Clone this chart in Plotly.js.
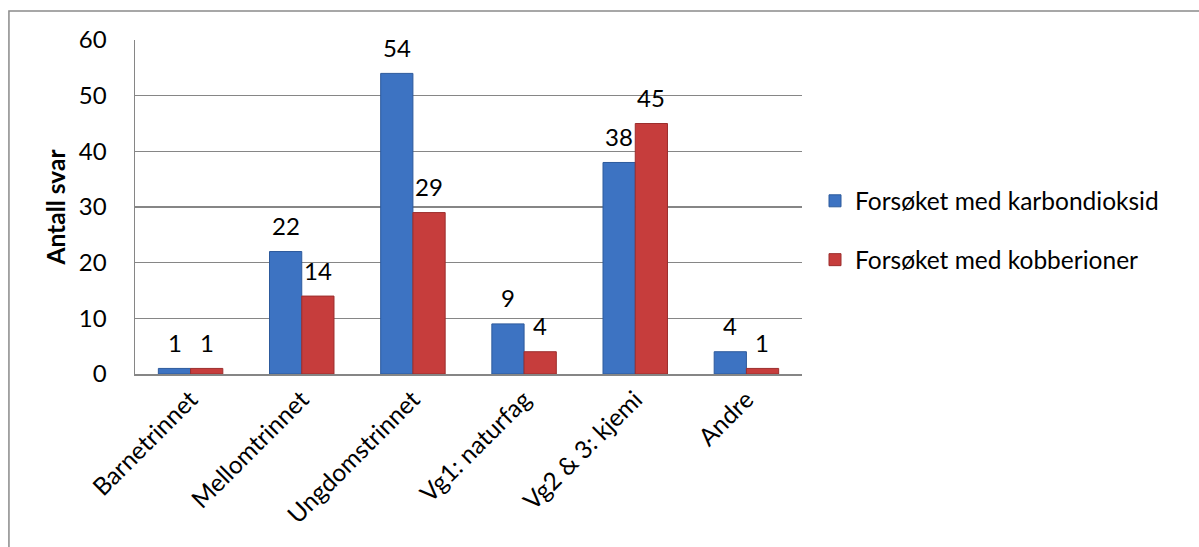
<!DOCTYPE html>
<html>
<head>
<meta charset="utf-8">
<script src="https://cdn.plot.ly/plotly-3.0.1.min.js"></script>
<style>html,body{margin:0;padding:0;background:#fff;}#chart{width:1199px;height:547px;}</style>
</head>
<body>
<div id="chart"></div>
<script>
const categories = ["Barnetrinnet", "Mellomtrinnet", "Ungdomstrinnet", "Vg1: naturfag", "Vg2 & 3: kjemi", "Andre"];
const seriesNames = ["Forsøket med karbondioksid", "Forsøket med kobberioner"];
const karbondioksid = [1, 22, 54, 9, 38, 4];
const kobberioner = [1, 14, 29, 4, 45, 1];
const yTicks = [0, 10, 20, 30, 40, 50, 60];

const font = "Lato, 'Open Sans', sans-serif";

const traces = [
  {type: 'bar', name: seriesNames[0], x: categories, y: karbondioksid, legendgroup: 'a',
   marker: {color: '#3d73c2', line: {color: '#2d5a9c', width: 1}}, hoverinfo: 'skip'},
  {type: 'bar', name: seriesNames[1], x: categories, y: kobberioner, legendgroup: 'b',
   marker: {color: '#c63d3c', line: {color: '#9c2e2d', width: 1}}, hoverinfo: 'skip'}
];

const annotations = [];
[karbondioksid, kobberioner].forEach((vals, s) => {
  vals.forEach((v, i) => {
    annotations.push({x: categories[i], y: v, xref: 'x', yref: 'y', text: String(v),
      showarrow: false, xshift: s === 0 ? -16 : 16, yshift: 26, yanchor: 'middle',
      font: {family: font, size: 24, color: '#000'}});
  });
});

const layout = {
  width: 1199, height: 547,
  margin: {l: 135, r: 397, t: 40, b: 173},
  paper_bgcolor: '#fff', plot_bgcolor: '#fff',
  barmode: 'group', bargap: 0.42, bargroupgap: 0,
  font: {family: font, color: '#000'},
  showlegend: true,
  legend: {x: 1.0195, y: 0.43, xanchor: 'left', yanchor: 'middle', tracegroupgap: 24,
    font: {family: font, size: 24.5, color: '#000'}, itemwidth: 30, traceorder: 'grouped'},
  xaxis: {type: 'category', tickangle: -45, tickfont: {family: font, size: 24.5, color: '#000'},
    showline: true, linecolor: '#868686', linewidth: 1.5, showgrid: false, ticks: '', fixedrange: true},
  yaxis: {range: [0, 60], tickvals: yTicks, ticktext: yTicks.map(String),
    tickfont: {family: font, size: 24, color: '#000'}, ticklabelstandoff: 22,
    showline: true, linecolor: '#868686', linewidth: 1.5, showgrid: true, gridcolor: '#868686', gridwidth: 1.2,
    ticks: '', zeroline: false, fixedrange: true,
    title: {text: '<b>Antall svar</b>', font: {family: font, size: 24.5, color: '#000'}, standoff: 6}},
  annotations: annotations,
  shapes: [{type: 'rect', xref: 'paper', yref: 'paper', x0: -0.189, x1: 1.62, y0: -0.6, y1: 1.0868,
    line: {color: '#8a8a8a', width: 1.5}, fillcolor: 'rgba(0,0,0,0)', layer: 'below'}]
};

Plotly.newPlot('chart', traces, layout, {displayModeBar: false, staticPlot: true});
</script>
</body>
</html>
